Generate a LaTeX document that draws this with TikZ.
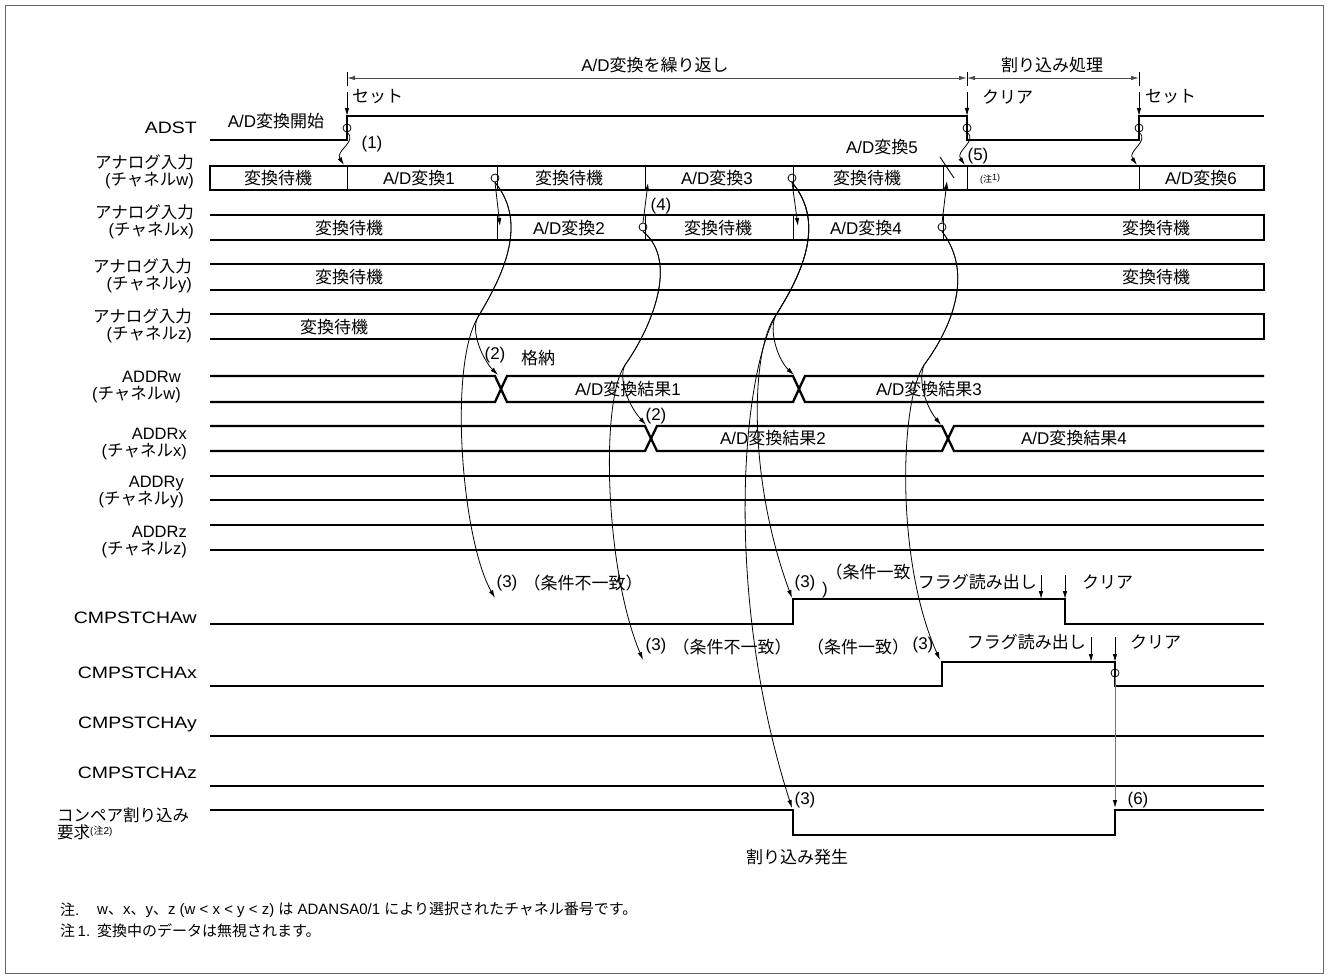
\documentclass[tikz,border=0pt]{standalone}
\usepackage{fontspec}
\setmainfont{Liberation Sans}
\newfontfamily\jp{Noto Sans CJK JP}
\newfontfamily\wide[FakeStretch=1.18]{Liberation Sans}
\usetikzlibrary{arrows.meta}
\newcommand\J[1]{{\jp #1}}
\newcommand\chn[1]{(\J{チャネル}#1)}
\begin{document}
\begin{tikzpicture}[x=1pt,y=-1pt,
  sig/.style={line width=2.3pt},
  thn/.style={line width=0.9pt},
  conn/.style={line width=0.8pt,-{Latex[length=8pt,width=4.5pt]}},
  dimline/.style={line width=0.9pt,black!70,{Latex[length=8pt,width=4.5pt]}-{Latex[length=8pt,width=4.5pt]}},
  lbl/.style={font=\fontsize{17}{17}\selectfont, inner sep=0pt},
  llbl/.style={font=\fontsize{16.5}{17}\selectfont, inner sep=0pt},
  note/.style={font=\fontsize{15}{17}\selectfont, inner sep=0pt, anchor=west},
  ring/.style={circle, draw, line width=0.8pt, minimum size=8pt, inner sep=0pt},
]
\useasboundingbox (0,0) rectangle (1329,979);
\draw[black!60, line width=1pt] (5.5,5.5) rectangle (1323.5,973.5);

% ---------- top dimension lines ----------
\coordinate (d0) at (347,78); \coordinate (d1) at (967,78); \coordinate (d2) at (1139,78);
\draw[thn] (347,72) -- (347,86);
\draw[thn] (967,72) -- (967,86);
\draw[thn] (1139,72) -- (1139,86);
\draw[dimline] (d0) -- (d1);
\draw[dimline] (d1) -- (d2);
\node[lbl] (rep) at (655,65) {A/D\J{変換を繰り返し}};
\node[lbl] (intp) at (1052,65) {\J{割り込み処理}};

% ---------- ADST ----------
\coordinate (s0) at (347,92); \coordinate (s0e) at (347,116);
\coordinate (s1) at (967,92); \coordinate (s1e) at (967,116);
\coordinate (s2) at (1139,92); \coordinate (s2e) at (1139,116);
\draw[conn] (s0) -- (s0e);
\draw[conn] (s1) -- (s1e);
\draw[conn] (s2) -- (s2e);
\node[lbl, anchor=west] (set1) at (352,97) {\J{セット}};
\node[lbl, anchor=west] (clr1) at (982,97) {\J{クリア}};
\node[lbl, anchor=west] (set2) at (1145,97) {\J{セット}};
\node[lbl] (adstart) at (276,121) {A/D\J{変換開始}};
\draw[sig] (210,140) -- (347,140) -- (347,116) -- (967,116) -- (967,140) -- (1139,140) -- (1139,116) -- (1264,116);

% ---------- left labels ----------
\node[llbl, anchor=east] (Ladst) at (197,128) {\wide ADST};
\node[llbl, anchor=east, align=right] (Law) at (194,172) {\J{アナログ入力}\\\chn{w}};
\node[llbl, anchor=east, align=right] (Lax) at (194,222) {\J{アナログ入力}\\\chn{x}};
\node[llbl, anchor=east, align=right] (Lay) at (192,276) {\J{アナログ入力}\\\chn{y}};
\node[llbl, anchor=east, align=right] (Laz) at (192,326) {\J{アナログ入力}\\\chn{z}};
\node[llbl, anchor=east, align=right] (Ldw) at (181,387) {ADDRw\\\chn{w}};
\node[llbl, anchor=east, align=right] (Ldx) at (187,444) {ADDRx\\\chn{x}};
\node[llbl, anchor=east, align=right] (Ldy) at (184,492) {ADDRy\\\chn{y}};
\node[llbl, anchor=east, align=right] (Ldz) at (187,542) {ADDRz\\\chn{z}};
\node[llbl, anchor=east] (Lcw) at (197,618) {\wide CMPSTCHAw};
\node[llbl, anchor=east] (Lcx) at (197,673) {\wide CMPSTCHAx};
\node[llbl, anchor=east] (Lcy) at (197,724) {\wide CMPSTCHAy};
\node[llbl, anchor=east] (Lcz) at (197,773) {\wide CMPSTCHAz};
\node[llbl, anchor=west, align=left] (Lint) at (57,824) {\J{コンペア割り込み}\\\J{要求}\raisebox{4pt}{\fontsize{10}{10}\selectfont(\J{注}2)}};

% ---------- analog channel w ----------
\draw[sig] (210,166) rectangle (1264,190);
\foreach \x in {347,497,645,793,943,967,1139} \draw[thn] (\x,166) -- (\x,190);
\node[lbl] (w1) at (278,178) {\J{変換待機}};
\node[lbl] (w2) at (419,178) {A/D\J{変換}1};
\node[lbl] (w3) at (569,178) {\J{変換待機}};
\node[lbl] (w4) at (717,178) {A/D\J{変換}3};
\node[lbl] (w5) at (867,178) {\J{変換待機}};
\node[inner sep=0pt, font=\fontsize{9}{9}\selectfont] (w6) at (990,179) {(\J{注}\raisebox{2pt}{1)}};
\node[lbl] (w7) at (1201,178) {A/D\J{変換}6};
\node[lbl] (w5t) at (882,147) {A/D\J{変換}5};
\draw[thn] (940,157) -- (954,178);

% ---------- analog channel x ----------
\draw[sig] (210,215) -- (1264,215) -- (1264,240) -- (210,240);
\foreach \x in {497,645,793,943} \draw[thn] (\x,215) -- (\x,240);
\node[lbl] (x1) at (349,228) {\J{変換待機}};
\node[lbl] (x2) at (569,228) {A/D\J{変換}2};
\node[lbl] (x3) at (718,228) {\J{変換待機}};
\node[lbl] (x4) at (866,228) {A/D\J{変換}4};
\node[lbl] (x5) at (1156,228) {\J{変換待機}};

% ---------- analog channel y, z ----------
\draw[sig] (210,264) -- (1264,264) -- (1264,290) -- (210,290);
\node[lbl] (y1) at (349,277) {\J{変換待機}};
\node[lbl] (y2) at (1156,277) {\J{変換待機}};
\draw[sig] (210,314) -- (1264,314) -- (1264,339) -- (210,339);
\node[lbl] (z1) at (334,327) {\J{変換待機}};

% ---------- ADDR registers ----------
\draw[sig] (210,376) -- (495,376) -- (507,402) -- (793,402) -- (805,376) -- (1264,376);
\draw[sig] (210,402) -- (495,402) -- (507,376) -- (793,376) -- (805,402) -- (1264,402);
\node[lbl] (r1) at (628,389) {A/D\J{変換結果}1};
\node[lbl] (r3) at (929,389) {A/D\J{変換結果}3};
\draw[sig] (210,426) -- (645,426) -- (657,451) -- (942,451) -- (954,426) -- (1264,426);
\draw[sig] (210,451) -- (645,451) -- (657,426) -- (942,426) -- (954,451) -- (1264,451);
\node[lbl] (r2) at (773,438) {A/D\J{変換結果}2};
\node[lbl] (r4) at (1074,438) {A/D\J{変換結果}4};
\draw[sig] (210,476) -- (1264,476);
\draw[sig] (210,500) -- (1264,500);
\draw[sig] (210,525) -- (1264,525);
\draw[sig] (210,550) -- (1264,550);

% ---------- CMPSTCHA and interrupt ----------
\draw[sig] (210,624) -- (793,624) -- (793,599) -- (1065,599) -- (1065,624) -- (1264,624);
\draw[sig] (210,686) -- (942,686) -- (942,662) -- (1115,662) -- (1115,686) -- (1264,686);
\draw[sig] (210,736) -- (1264,736);
\draw[sig] (210,786) -- (1264,786);
\draw[sig] (210,810) -- (793,810) -- (793,835) -- (1115,835) -- (1115,810) -- (1264,810);

% flag read / clear arrows
\coordinate (fw0) at (1041,575); \coordinate (fw1) at (1041,599);
\coordinate (cw0) at (1065,575); \coordinate (cw1e) at (1065,599);
\coordinate (fx0) at (1091,637); \coordinate (fx1) at (1091,662);
\coordinate (cx0) at (1115,637); \coordinate (cx1e) at (1115,662);
\draw[conn] (fw0) -- (fw1);
\draw[conn] (cw0) -- (cw1e);
\draw[conn] (fx0) -- (fx1);
\draw[conn] (cx0) -- (cx1e);
\node[lbl, anchor=east] (frw) at (1037,582) {\J{フラグ読み出し}};
\node[lbl, anchor=west] (clw) at (1082,582) {\J{クリア}};
\node[lbl, anchor=east] (frx) at (1086,642) {\J{フラグ読み出し}};
\node[lbl, anchor=west] (clx) at (1130,642) {\J{クリア}};

% ---------- event circles ----------
\node[ring] (c0) at (347,128) {};
\node[ring] (cf) at (967,128) {};
\node[ring] (cr) at (1139,128) {};
\node[ring] (cw1) at (495,178) {};
\node[ring] (cx2) at (643,227) {};
\node[ring] (cw3) at (792,178) {};
\node[ring] (cx4) at (942,227) {};
\node[ring] (cxf) at (1115,673) {};

% ---------- connectors ----------
\coordinate (a1) at (344,165);
\draw[conn] (c0.south) .. controls (358,141) and (335,151) .. (a1);
\node[lbl] (n1) at (372,144) {(1)};
\coordinate (a5) at (965,165);
\draw[conn] (cf.south) .. controls (978,141) and (955,151) .. (a5);
\node[lbl] (n5) at (978,156) {(5)};
\coordinate (a6) at (1137,165);
\draw[conn] (cr.south) .. controls (1150,141) and (1127,151) .. (a6);

% w conv1 end
\coordinate (a2) at (500,226);
\coordinate (m1) at (478,317);
\coordinate (dw1) at (498,375);
\coordinate (pw1) at (495,598);
\draw[conn] (cw1.south) -- (a2);
\draw[conn] (cw1.south) .. controls (530,225) and (500,280) .. (m1) .. controls (470,331) and (483,360) .. (dw1);
\draw[conn] (cw1.south) .. controls (530,225) and (500,280) .. (m1) .. controls (448,367) and (462,540) .. (pw1);
\node[lbl] (n2a) at (495,355) {(2)};
\node[lbl] (kakuno) at (538,358) {\J{格納}};
\node[lbl] (n3a) at (507,583) {(3)};
\node[lbl] (nm1) at (583,583) {\J{（条件不一致）}};

% x conv2 end
\coordinate (a4) at (648,183);
\coordinate (m2) at (625,365);
\coordinate (dx2) at (646,425);
\coordinate (px2) at (643,660);
\draw[conn] (cx2.north) -- (a4);
\node[lbl] (n4) at (661,206) {(4)};
\draw[conn] (cx2.south) .. controls (680,262) and (650,330) .. (m2) .. controls (618,378) and (628,405) .. (dx2);
\draw[conn] (cx2.south) .. controls (680,262) and (650,330) .. (m2) .. controls (600,400) and (605,570) .. (px2);
\node[lbl] (n2b) at (656,416) {(2)};
\node[lbl] (n3b) at (656,646) {(3)};
\node[lbl] (nm2) at (732,647) {\J{（条件不一致）}};

% w conv3 end
\coordinate (a3) at (798,226);
\coordinate (m3) at (776,315);
\coordinate (dw3) at (794,375);
\coordinate (pw3) at (792,598);
\coordinate (pi3) at (792,808);
\draw[conn] (cw3.south) -- (a3);
\draw[conn] (cw3.south) .. controls (828,225) and (798,280) .. (m3) .. controls (768,330) and (778,360) .. (dw3);
\draw[conn] (cw3.south) .. controls (828,225) and (798,280) .. (m3) .. controls (750,350) and (748,480) .. (pw3);
\draw[conn] (cw3.south) .. controls (828,225) and (798,280) .. (m3) .. controls (740,380) and (725,600) .. (pi3);
\node[lbl] (n3c) at (805,583) {(3)};
\node[lbl] (ok1) at (868,572) {\J{（条件一致}};
\node[lbl] (ok1b) at (825,590) {)};
\node[lbl] (n3d) at (805,800) {(3)};
\node[lbl] (intg) at (797,857) {\J{割り込み発生}};

% x conv4 end
\coordinate (a7) at (947,181);
\coordinate (m4) at (924,365);
\coordinate (dx4) at (941,425);
\coordinate (px4) at (940,660);
\draw[conn] (cx4.north) -- (a7);
\draw[conn] (cx4.south) .. controls (975,275) and (950,330) .. (m4) .. controls (918,380) and (925,405) .. (dx4);
\draw[conn] (cx4.south) .. controls (975,275) and (950,330) .. (m4) .. controls (900,400) and (895,560) .. (px4);
\node[lbl] (ok2) at (858,647) {\J{（条件一致）}};
\node[lbl] (n3e) at (923,645) {(3)};

% clear of CMPSTCHAx -> interrupt release
\coordinate (a8) at (1115,808);
\draw[line width=0.9pt, black!55, -{Latex[black,length=8pt,width=4.5pt]}] (cxf.south) -- (a8);
\node[lbl] (n6) at (1138,800) {(6)};

% ---------- notes ----------
\node[note] (nt0) at (60,910) {\J{注}.};
\node[note] (nt0b) at (97,910) {w\J{、}x\J{、}y\J{、}z (w < x < y < z) \J{は} ADANSA0/1 \J{により選択されたチャネル番号です。}};
\node[note] (nt1) at (60,931) {\J{注}\,1.};
\node[note] (nt1b) at (97,931) {\J{変換中のデータは無視されます。}};
\end{tikzpicture}
\end{document}
